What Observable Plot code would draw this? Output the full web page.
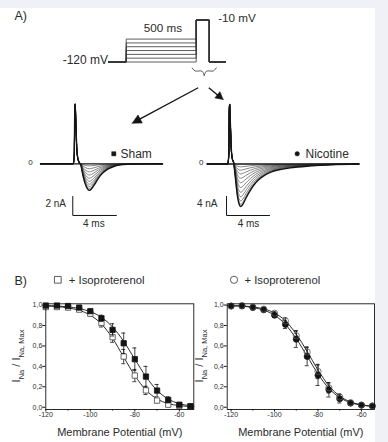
<!DOCTYPE html>
<html><head><meta charset="utf-8">
<script src="https://cdn.jsdelivr.net/npm/d3@7"></script>
<script src="https://cdn.jsdelivr.net/npm/@observablehq/plot@0.6"></script>
<style>
html,body{margin:0;padding:0;background:#eff1f7;}
#fig{position:relative;width:388px;height:442px;overflow:hidden;background:#eff1f7;font-family:"Liberation Sans",Arial,sans-serif;}
#paper{position:absolute;left:0;top:8px;width:375px;height:434px;background:#fff;}
#fig svg{position:absolute;left:0;top:0;overflow:visible;}
</style></head><body><div id="fig"><div id="paper"></div></div>
<script>
// ================= DATA =================
// Panel B: steady-state inactivation (I_Na / I_Na,Max vs prepulse potential, mV)
const prepulseMV   = [-120,-115,-110,-105,-100,-95,-90,-85,-80,-75,-70,-65,-60,-55];
const sham         = [0.995,0.995,0.99,0.975,0.94,0.87,0.757,0.626,0.47,0.30,0.163,0.072,0.025,0.01];
const shamErr      = [0.005,0.01,0.01,0.01,0.015,0.03,0.06,0.10,0.11,0.10,0.06,0.03,0.015,0.01];
const shamIso      = [0.98,0.98,0.975,0.955,0.915,0.825,0.685,0.496,0.31,0.165,0.065,0.025,0.012,0.006];
const shamIsoErr   = [0.02,0.02,0.015,0.015,0.02,0.04,0.05,0.07,0.06,0.04,0.02,0.015,0.01,0.01];
const nicotine     = [0.99,0.99,0.975,0.953,0.90,0.81,0.665,0.496,0.313,0.17,0.082,0.04,0.02,0.012];
const nicotineErr  = [0.01,0.01,0.015,0.015,0.02,0.04,0.08,0.09,0.10,0.07,0.04,0.02,0.01,0.01];
const nicotineIso  = [0.99,0.995,0.98,0.96,0.92,0.845,0.70,0.54,0.35,0.19,0.10,0.045,0.022,0.012];
const nicotineIsoErr=[0.01,0.01,0.01,0.01,0.015,0.03,0.05,0.05,0.07,0.05,0.03,0.015,0.01,0.01];
// fitted curves
const fitMVLeft    = [-120,-115,-110,-105,-100,-95,-90,-85,-80,-75,-70,-65,-60,-55,-53.5];
const fitSham      = [0.995,0.99,0.982,0.966,0.935,0.88,0.785,0.645,0.47,0.30,0.165,0.08,0.035,0.015,0.012];
const fitShamIso   = [0.99,0.985,0.972,0.948,0.90,0.815,0.675,0.49,0.31,0.168,0.082,0.036,0.016,0.007,0.005];
const fitMVRight   = [-121.8,-120,-115,-110,-105,-100,-95,-90,-85,-80,-75,-70,-65,-60,-55,-54];
const fitNic       = [0.994,0.993,0.988,0.976,0.95,0.90,0.81,0.67,0.50,0.325,0.185,0.095,0.045,0.021,0.01,0.009];
const fitNicIso    = [0.996,0.995,0.991,0.981,0.962,0.922,0.845,0.715,0.545,0.365,0.21,0.11,0.052,0.024,0.011,0.01];
const xTicks = [-120,-100,-80,-60];
const xMinorTicks = [-110,-90,-70];
const yTicks = [0,0.2,0.4,0.6,0.8,1.0];

// Panel A: current traces (time in ms from test pulse onset, current in nA)
const tSham      = [-3.1,-0.1,0,0.04,0.08,0.14,0.22,0.32,0.45,0.6,0.8,1.0,1.2,1.4,1.6,1.9,2.2,2.6,3.0,3.5,4.2,5.0,6.0,8.1];
const spikeSham  = [0,0,1.0,5.5,6.3,4.5,1.8,0.6,0.15,0,0,0,0,0,0,0,0,0,0,0,0,0,0,0];
const naShapeSham= [0,0,0,0,0,0,0,0,0,-0.05,-0.45,-0.75,-0.93,-1.0,-0.93,-0.75,-0.55,-0.35,-0.22,-0.12,-0.04,-0.015,-0.004,0];
const peakSham   = [2.8,2.62,2.4,2.15,1.85,1.52,1.18,0.85,0.52,0.22];
const tNic       = [-2.0,-0.1,0,0.04,0.08,0.14,0.22,0.32,0.45,0.6,0.8,1.0,1.1,1.3,1.6,2.0,2.5,3.0,3.9,5.0,5.7,7.6,9.5,12.1];
const spikeNic   = [0,0,2.0,11.0,12.6,9.0,3.6,1.2,0.3,0,0,0,0,0,0,0,0,0,0,0,0,0,0,0];
const naShapeNic = [0,0,0,0,0,0,0,0,0,-0.3,-0.75,-0.97,-1.0,-0.95,-0.8,-0.62,-0.44,-0.32,-0.19,-0.12,-0.09,-0.045,-0.017,0];
const peakNic    = [8.95,8.5,7.8,6.9,5.95,4.95,3.95,3.0,2.1,1.3,0.6];

// Voltage protocol (schematic, not to scale)
const protocolLevels = [-120,-110,-100,-90,-80,-70,-60];
const holdingMV = -120, testMV = -10;
const protocolTimes = [0,17.7,87.7,100.7,117]; // hold, prepulse start, test start, test end, end

// ================= LAYOUT =================
const W = 388, H = 442;
const FONT = "Liberation Sans, Arial, sans-serif";
const INK = "#141414";
const TXT = "#2b2b2b";
const fig = document.getElementById("fig");
const baseStyle = {background:"transparent", fontFamily:FONT, overflow:"visible", color:INK};
function add(svg){ svg.style.position="absolute"; svg.style.left="0"; svg.style.top="0"; fig.appendChild(svg); return svg; }

// ---- Voltage protocol
const protoRows = protocolLevels.flatMap(L => {
  const [t0,t1,t2,t3,t4] = protocolTimes;
  return [[t0,holdingMV],[t1,holdingMV],[t1,L],[t2,L],[t2,testMV],[t3,testMV],[t3,holdingMV],[t4,holdingMV]]
    .map(([t,v]) => ({L, t, v}));
});
add(Plot.plot({
  width:W, height:H, margin:0, style:baseStyle,
  x:{domain:[0,117], range:[108,225], axis:null},
  y:{domain:[-120,-10], range:[61.5,19.5], axis:null},
  marks:[ Plot.line(protoRows, {x:"t", y:"v", z:"L", stroke:"#333", strokeWidth:0.8}) ]
}));

// ---- Current traces
function traceRows(ts, spike, shape, peaks){
  return peaks.flatMap((A,k) => ts.map((t,i) => ({k, t, i: spike[i] + A*shape[i]})));
}
function tracePlot(rows, xd, xr, yd, yr, bar){
  const barPts = [[bar.t0,bar.i0],[bar.t0,bar.i0-bar.nA],[bar.t0+bar.ms,bar.i0-bar.nA]];
  return Plot.plot({
    width:W, height:H, margin:0, style:baseStyle,
    x:{domain:xd, range:xr, axis:null}, y:{domain:yd, range:yr, axis:null},
    marks:[
      Plot.ruleY([0], {x1:xd[0], x2:xd[1], stroke:INK, strokeWidth:1.3}),
      Plot.line(rows.filter(d=>d.k>0), {x:"t", y:"i", z:"k", curve:"monotone-x", stroke:"#222", strokeWidth:0.55}),
      Plot.line(rows.filter(d=>d.k===0), {x:"t", y:"i", curve:"monotone-x", stroke:INK, strokeWidth:1.4}),
      Plot.line(barPts, {x:d=>d[0], y:d=>d[1], stroke:INK, strokeWidth:1})
    ]
  });
}
add(tracePlot(traceRows(tSham,spikeSham,naShapeSham,peakSham), [-3.1,8.1],[40,162.1],[-6,7],[220.3,96.8],
  {t0:-0.14,i0:-3.44,nA:2,ms:4}));
add(tracePlot(traceRows(tNic,spikeNic,naShapeNic,peakNic), [-2.0,12.1],[206.8,358.4],[-12,13],[220.5,101.75],
  {t0:-0.21,i0:-6.84,nA:4,ms:4}));

// ---- Annotations (figure coordinates)
const labels = [
  {x:14, y:15, text:"A)", size:12.5, a:"start"},
  {x:14, y:280, text:"B)", size:12.5, a:"start"},
  {x:107.5, y:59.7, text:"-120 mV", size:12, a:"end"},
  {x:162.5, y:27.5, text:"500 ms", size:11.7, a:"middle"},
  {x:217.7, y:17.7, text:"-10 mV", size:11.7, a:"start"},
  {x:120, y:153.3, text:"Sham", size:12, a:"start"},
  {x:305, y:153.3, text:"Nicotine", size:12, a:"start"},
  {x:30, y:162, text:"0", size:8, a:"middle"},
  {x:200.7, y:161.7, text:"0", size:8, a:"middle"},
  {x:65.5, y:203.3, text:"2 nA", size:10, a:"end"},
  {x:93.3, y:223.3, text:"4 ms", size:10, a:"middle"},
  {x:217, y:203.3, text:"4 nA", size:10, a:"end"},
  {x:248, y:223.3, text:"4 ms", size:10, a:"middle"},
  {x:68.3, y:279.5, text:"+ Isoproterenol", size:11.3, a:"start"},
  {x:244, y:279.5, text:"+ Isoproterenol", size:11.3, a:"start"}
];
const arrows = [
  {x1:197.7, y1:87.3, x2:131.7, y2:122.7, len:9, half:4.5},
  {x1:208.3, y1:87.3, x2:222.7, y2:99, len:7.5, half:4}
];
const brace = [
  {h:0,x:191.7,y:67.5},{h:0,x:194.5,y:70.4},{h:0,x:201.5,y:70.7},{h:0,x:203.7,y:74.8},
  {h:1,x:215.8,y:67.3},{h:1,x:213,y:70.4},{h:1,x:206,y:70.7},{h:1,x:203.7,y:74.8}
];
const legendSymbols = [
  {x:57.3, y:279.3, sym:"square", r:3.8, fill:"white", sw:0.8},
  {x:233.5, y:279.3, sym:"circle", r:3.6, fill:"white", sw:0.8},
  {x:113.3, y:153.3, sym:"square", r:2.4, fill:INK, sw:0.5},
  {x:296.7, y:153.3, sym:"circle", r:2.3, fill:INK, sw:0.5}
];
const heads = arrows.flatMap((a,j) => {
  const ang = Math.atan2(a.y2-a.y1, a.x2-a.x1);
  const bx = a.x2 - a.len*Math.cos(ang), by = a.y2 - a.len*Math.sin(ang);
  return [[a.x2,a.y2],[bx+a.half*Math.sin(ang), by-a.half*Math.cos(ang)],[bx-a.half*Math.sin(ang), by+a.half*Math.cos(ang)],[a.x2,a.y2]]
    .map(p => ({j, x:p[0], y:p[1]}));
});
const shafts = arrows.map(a => {
  const ang = Math.atan2(a.y2-a.y1, a.x2-a.x1);
  return {x1:a.x1, y1:a.y1, x2:a.x2-(a.len-1)*Math.cos(ang), y2:a.y2-(a.len-1)*Math.sin(ang)};
});
add(Plot.plot({
  width:W, height:H, margin:0, style:baseStyle,
  x:{domain:[0,W], range:[0,W], axis:null}, y:{domain:[0,H], range:[0,H], axis:null},
  marks:[
    ...["start","middle","end"].map(a => Plot.text(labels.filter(d=>d.a===a), {x:"x", y:"y", text:"text", fontSize:"size", textAnchor:a, lineAnchor:"middle", fill:TXT})),
    Plot.link(shafts, {x1:"x1", y1:"y1", x2:"x2", y2:"y2", stroke:INK, strokeWidth:1.3}),
    Plot.line(heads, {x:"x", y:"y", z:"j", fill:INK, stroke:INK, strokeWidth:0.6}),
    Plot.line(brace, {x:"x", y:"y", z:"h", curve:"catmull-rom", stroke:"#333", strokeWidth:0.8}),
    ...legendSymbols.map(s => Plot.dot([s], {x:"x", y:"y", r:s.r, symbol:s.sym, fill:s.fill, stroke:"#333", strokeWidth:s.sw}))
  ]
}));

// ---- Panel B plots
function rowsOf(vals, errs){ return prepulseMV.map((x,i) => ({x, y:vals[i], e:errs[i]})); }
function errMarks(rows, capHalf){
  return [
    Plot.ruleX(rows, {x:"x", y1:d=>d.y-d.e, y2:d=>d.y+d.e, stroke:INK, strokeWidth:0.8}),
    Plot.ruleY(rows, {y:d=>d.y+d.e, x1:d=>d.x-capHalf, x2:d=>d.x+capHalf, stroke:INK, strokeWidth:0.8}),
    Plot.ruleY(rows, {y:d=>d.y-d.e, x1:d=>d.x-capHalf, x2:d=>d.x+capHalf, stroke:INK, strokeWidth:0.8})
  ];
}
function fitRows(xs, ys){ return xs.map((x,i) => ({x, y:ys[i]})); }
function addYLabel(svg, x0, yc){
  const t = d3.select(svg).append("text")
    .attr("transform", `translate(${x0},${yc}) rotate(-90)`)
    .attr("text-anchor","middle").attr("font-size",11).attr("fill",TXT).attr("font-family",FONT);
  t.append("tspan").text("I");
  t.append("tspan").attr("font-size",7.5).attr("dy",4.5).text("Na");
  t.append("tspan").attr("dy",-4.5).text(" / ");
  t.append("tspan").text("I");
  t.append("tspan").attr("font-size",7.5).attr("dy",4.5).text("Na, Max");
}
function bPlot({mL, mR, xd, fits, groups, yLabelX}){
  const capHalf = 2 * (xd[1]-xd[0]) / (W - mL - mR);
  const svg = Plot.plot({
    width:W, height:H, marginLeft:mL, marginRight:mR, marginTop:303.3, marginBottom:33,
    style:baseStyle,
    x:{domain:xd}, y:{domain:[-0.022,1.012]},
    marks:[
      Plot.axisX({ticks:xTicks, tickSize:2.5, tickPadding:0.5, fontSize:7, tickFormat:d=>String(d), label:null, stroke:INK, fill:TXT}),
      Plot.axisX({ticks:xMinorTicks, tickSize:1.5, tickFormat:()=>"", label:null, stroke:INK}),
      Plot.axisY({ticks:yTicks, tickSize:3, tickPadding:0.5, fontSize:7, tickFormat:d=>d.toFixed(1).replace(".",","), label:null, stroke:INK, fill:TXT}),
      ...fits.map(f => Plot.line(f, {x:"x", y:"y", curve:"monotone-x", stroke:INK, strokeWidth:0.9})),
      ...groups.flatMap(g => [...errMarks(g.rows, capHalf),
        Plot.dot(g.rows, {x:"x", y:"y", r:g.r, symbol:g.sym, fill:g.fill, stroke:g.stroke, strokeWidth:0.8})]),
      Plot.frame({stroke:INK, strokeWidth:0.9}),
      Plot.text(["Membrane Potential (mV)"], {text:d=>d, frameAnchor:"bottom", dy:22.7, lineAnchor:"middle", fontSize:11, fill:TXT})
    ]
  });
  addYLabel(svg, yLabelX, 356);
  return svg;
}
add(bPlot({
  mL:45.3, mR:W-193.3, xd:[-120,-53.5], yLabelX:19.5,
  fits:[fitRows(fitMVLeft, fitSham), fitRows(fitMVLeft, fitShamIso)],
  groups:[
    {rows:rowsOf(shamIso, shamIsoErr), sym:"square", r:3.0, fill:"white", stroke:"#444"},
    {rows:rowsOf(sham, shamErr), sym:"square", r:3.0, fill:INK, stroke:INK}
  ]
}));
add(bPlot({
  mL:226.7, mR:W-374, xd:[-121.8,-54], yLabelX:202.5,
  fits:[fitRows(fitMVRight, fitNic), fitRows(fitMVRight, fitNicIso)],
  groups:[
    {rows:rowsOf(nicotine, nicotineErr), sym:"circle", r:3.0, fill:INK, stroke:INK},
    {rows:rowsOf(nicotineIso, nicotineIsoErr), sym:"circle", r:3.1, fill:"none", stroke:"#555"}
  ]
}));
</script></body></html>
